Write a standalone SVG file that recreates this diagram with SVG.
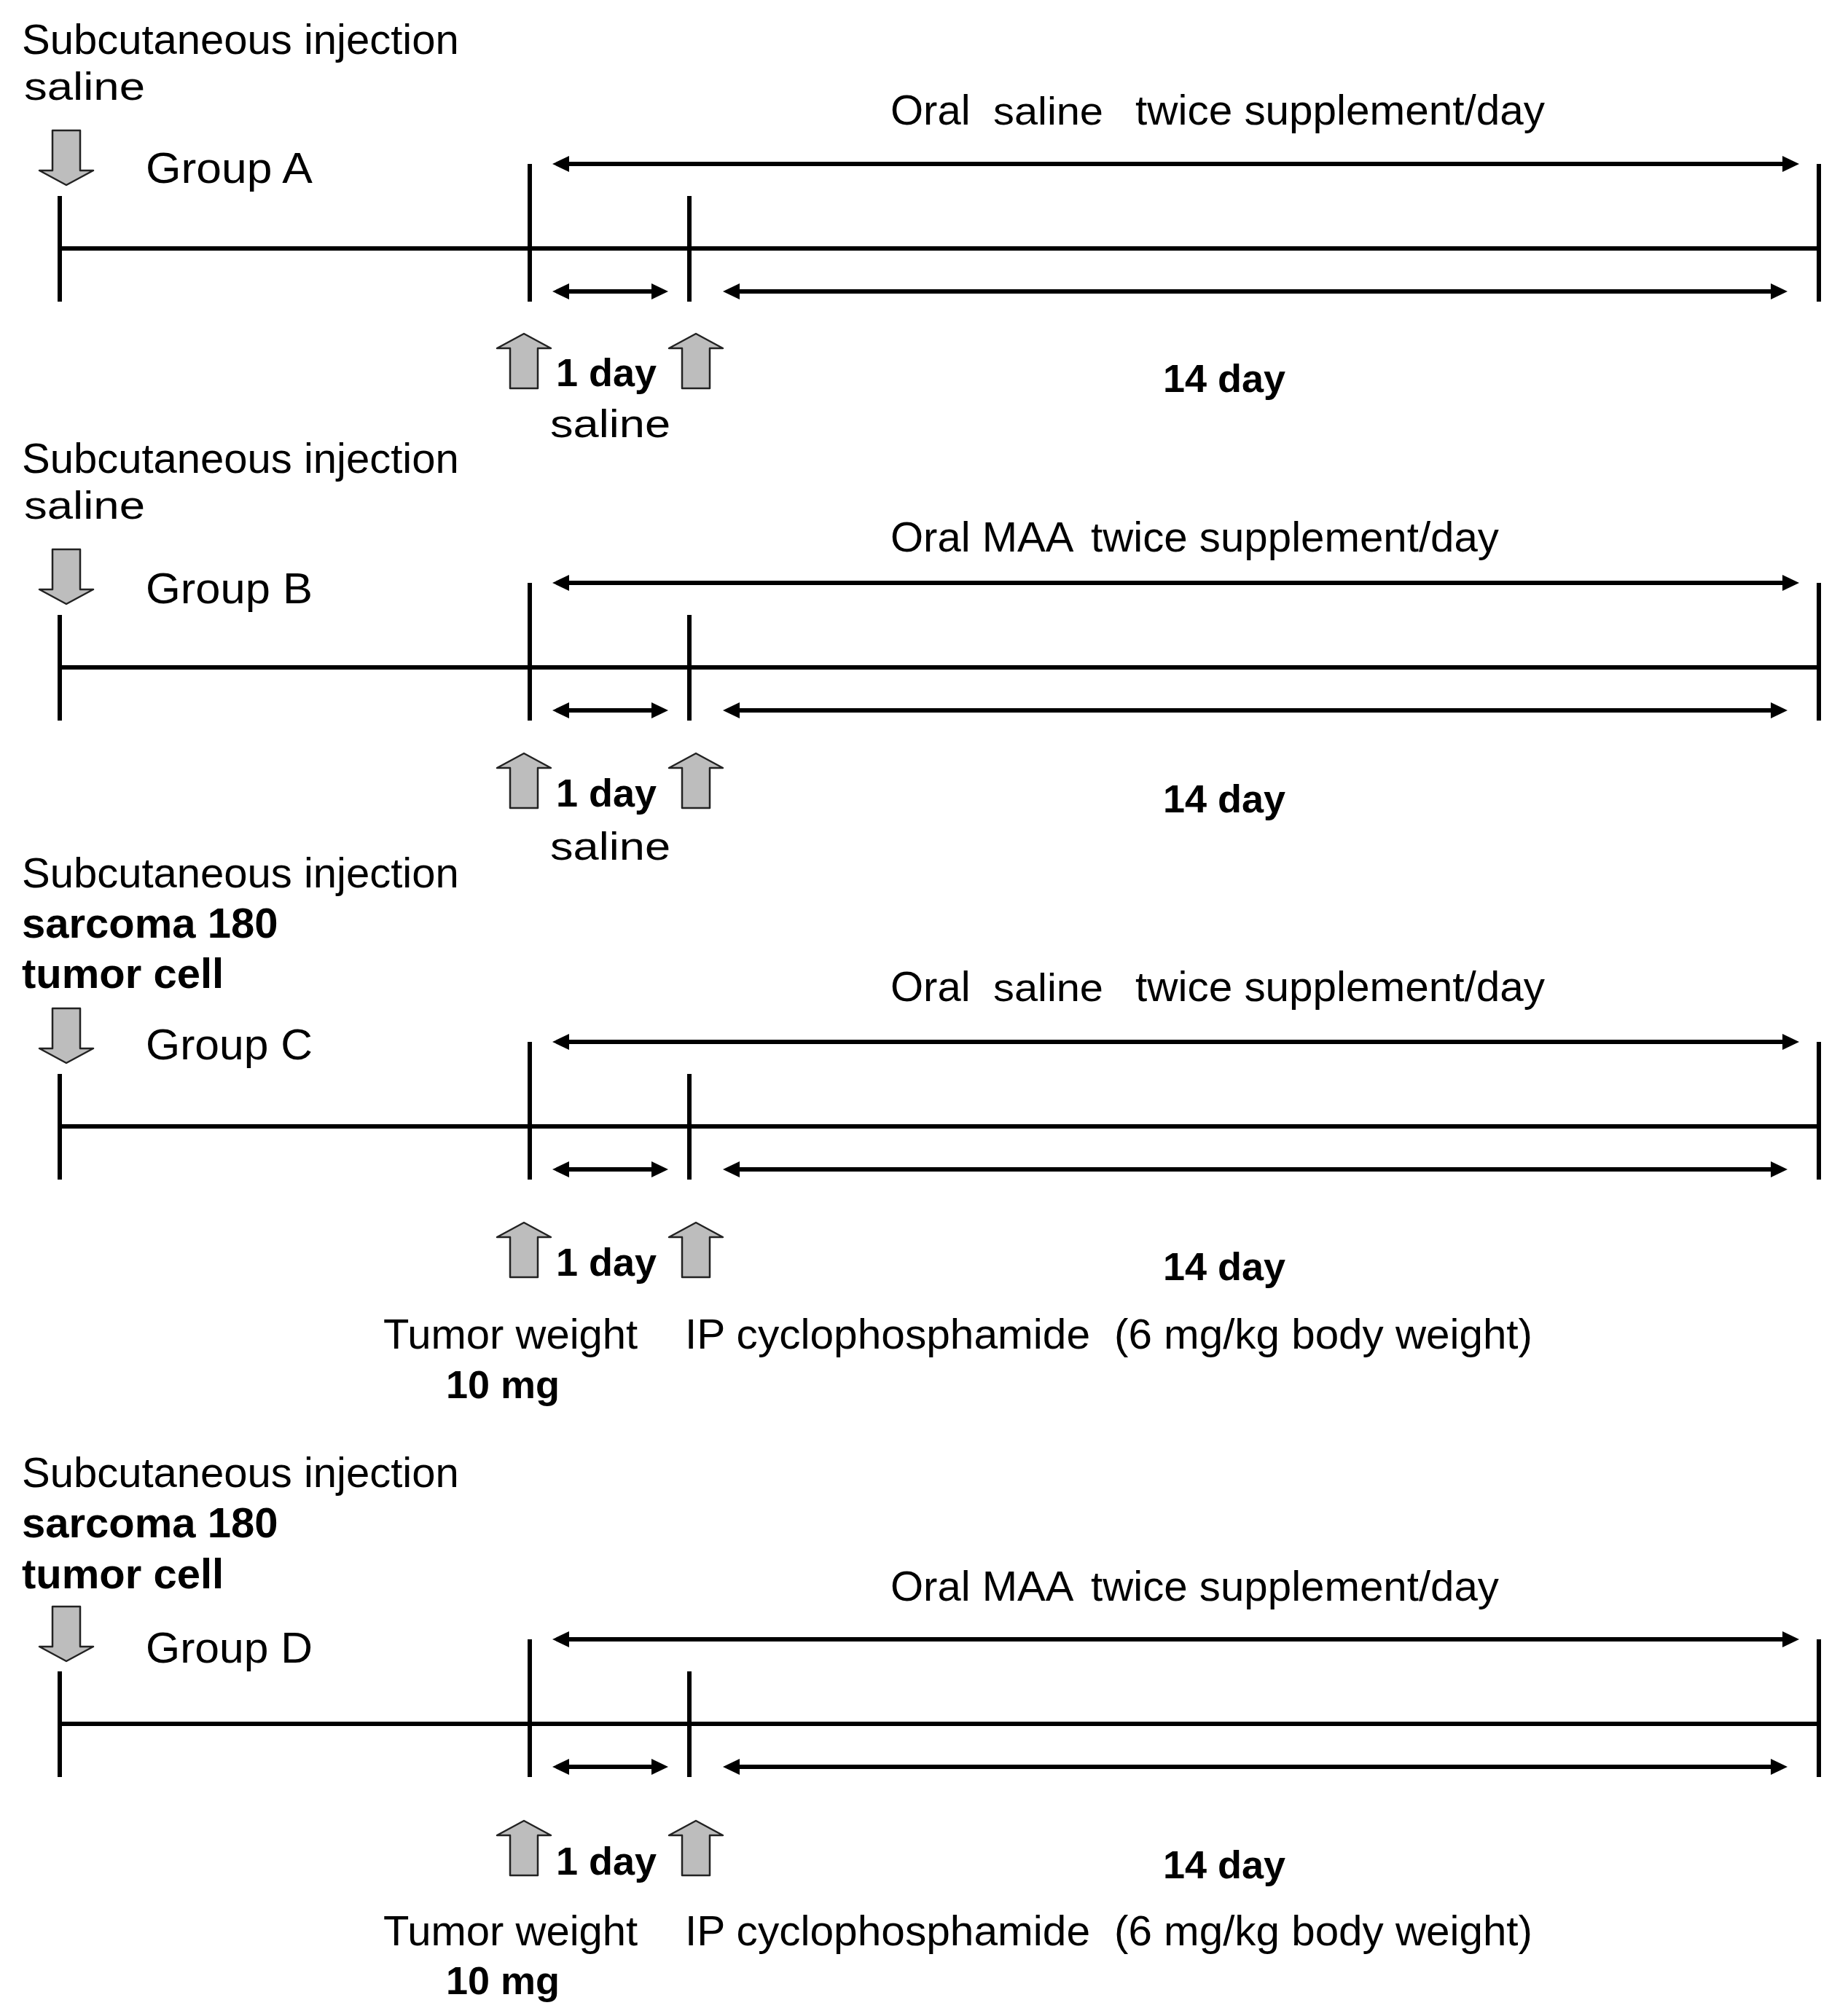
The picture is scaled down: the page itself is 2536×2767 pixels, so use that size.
<svg xmlns="http://www.w3.org/2000/svg" xmlns:xlink="http://www.w3.org/1999/xlink" width="2536" height="2767" viewBox="0 0 2536 2767">
<style>
text{font-family:"Liberation Sans",Arial,sans-serif;fill:#000}
.n{font-size:58px}
.b{font-size:58px;font-weight:bold}
.d{font-size:54px;font-weight:bold}
.g{font-size:60px}
.s{font-size:54px}
.ln{stroke:#000;stroke-width:6;fill:none}
.ar{stroke:#000;stroke-width:6;fill:none;marker-start:url(#ah);marker-end:url(#ah)}
.blk{fill:#bdbdbd;stroke:#222;stroke-width:2.5;stroke-linejoin:round}
</style>
<defs>
<marker id="ah" viewBox="0 0 23 22" refX="13" refY="11" markerWidth="23" markerHeight="22" markerUnits="userSpaceOnUse" orient="auto-start-reverse"><path d="M0,0 L23,11 L0,22 Z" fill="#000"/></marker>
<path id="down" class="blk" d="M-19,0 H19 V55 H37 L0,75 L-37,55 H-19 Z"/>
<path id="up" class="blk" d="M0,0 L37,20 H19 V75 H-19 V20 H-37 Z"/>
</defs>
<rect width="2536" height="2767" fill="#fff"/>

<g id="connectors">
  <g id="conn-A">
  <line class="ln" x1="82" y1="341" x2="2496" y2="341"/>
  <line class="ln" x1="82" y1="269" x2="82" y2="414"/>
  <line class="ln" x1="727" y1="225" x2="727" y2="414"/>
  <line class="ln" x1="946" y1="269" x2="946" y2="414"/>
  <line class="ln" x1="2496" y1="225" x2="2496" y2="414"/>
  <line class="ar" x1="768" y1="225" x2="2459" y2="225"/>
  <line class="ar" x1="768" y1="400" x2="907" y2="400"/>
  <line class="ar" x1="1002" y1="400" x2="2443" y2="400"/>
  </g>
  <g id="conn-B">
  <line class="ln" x1="82" y1="916" x2="2496" y2="916"/>
  <line class="ln" x1="82" y1="844" x2="82" y2="989"/>
  <line class="ln" x1="727" y1="800" x2="727" y2="989"/>
  <line class="ln" x1="946" y1="844" x2="946" y2="989"/>
  <line class="ln" x1="2496" y1="800" x2="2496" y2="989"/>
  <line class="ar" x1="768" y1="800" x2="2459" y2="800"/>
  <line class="ar" x1="768" y1="975" x2="907" y2="975"/>
  <line class="ar" x1="1002" y1="975" x2="2443" y2="975"/>
  </g>
  <g id="conn-C">
  <line class="ln" x1="82" y1="1546" x2="2496" y2="1546"/>
  <line class="ln" x1="82" y1="1474" x2="82" y2="1619"/>
  <line class="ln" x1="727" y1="1430" x2="727" y2="1619"/>
  <line class="ln" x1="946" y1="1474" x2="946" y2="1619"/>
  <line class="ln" x1="2496" y1="1430" x2="2496" y2="1619"/>
  <line class="ar" x1="768" y1="1430" x2="2459" y2="1430"/>
  <line class="ar" x1="768" y1="1605" x2="907" y2="1605"/>
  <line class="ar" x1="1002" y1="1605" x2="2443" y2="1605"/>
  </g>
  <g id="conn-D">
  <line class="ln" x1="82" y1="2366" x2="2496" y2="2366"/>
  <line class="ln" x1="82" y1="2294" x2="82" y2="2439"/>
  <line class="ln" x1="727" y1="2250" x2="727" y2="2439"/>
  <line class="ln" x1="946" y1="2294" x2="946" y2="2439"/>
  <line class="ln" x1="2496" y1="2250" x2="2496" y2="2439"/>
  <line class="ar" x1="768" y1="2250" x2="2459" y2="2250"/>
  <line class="ar" x1="768" y1="2425" x2="907" y2="2425"/>
  <line class="ar" x1="1002" y1="2425" x2="2443" y2="2425"/>
  </g>
</g>

<g id="groupA">
  <text class="n" x="30" y="74">Subcutaneous injection</text>
  <text class="s" x="33" y="137" textLength="166" lengthAdjust="spacingAndGlyphs">saline</text>
  <use xlink:href="#down" x="91" y="179"/>
  <text class="g" x="200" y="251" textLength="229" lengthAdjust="spacingAndGlyphs">Group A</text>
  <text class="n" x="1222" y="171">Oral</text>
  <text class="s" x="1363" y="171" textLength="151" lengthAdjust="spacingAndGlyphs">saline</text>
  <text class="n" x="1558" y="171" textLength="562" lengthAdjust="spacingAndGlyphs">twice supplement/day</text>
  <use xlink:href="#up" x="719" y="458"/>
  <use xlink:href="#up" x="955" y="458"/>
  <text class="d" x="763" y="530">1 day</text>
  <text class="s" x="755" y="600" textLength="165" lengthAdjust="spacingAndGlyphs">saline</text>
  <text class="d" x="1596" y="538">14 day</text>
</g>

<g id="groupB">
  <text class="n" x="30" y="649">Subcutaneous injection</text>
  <text class="s" x="33" y="712" textLength="166" lengthAdjust="spacingAndGlyphs">saline</text>
  <use xlink:href="#down" x="91" y="754"/>
  <text class="g" x="200" y="828" textLength="229" lengthAdjust="spacingAndGlyphs">Group B</text>
  <text class="n" x="1222" y="757">Oral MAA</text>
  <text class="n" x="1497" y="757" textLength="560" lengthAdjust="spacingAndGlyphs">twice supplement/day</text>
  <use xlink:href="#up" x="719" y="1034"/>
  <use xlink:href="#up" x="955" y="1034"/>
  <text class="d" x="763" y="1107">1 day</text>
  <text class="s" x="755" y="1180" textLength="165" lengthAdjust="spacingAndGlyphs">saline</text>
  <text class="d" x="1596" y="1115">14 day</text>
</g>

<g id="groupC">
  <text class="n" x="30" y="1218">Subcutaneous injection</text>
  <text class="b" x="30" y="1287">sarcoma 180</text>
  <text class="b" x="30" y="1356">tumor cell</text>
  <use xlink:href="#down" x="91" y="1384"/>
  <text class="g" x="200" y="1454" textLength="229" lengthAdjust="spacingAndGlyphs">Group C</text>
  <text class="n" x="1222" y="1374">Oral</text>
  <text class="s" x="1363" y="1374" textLength="151" lengthAdjust="spacingAndGlyphs">saline</text>
  <text class="n" x="1558" y="1374" textLength="562" lengthAdjust="spacingAndGlyphs">twice supplement/day</text>
  <use xlink:href="#up" x="719" y="1678"/>
  <use xlink:href="#up" x="955" y="1678"/>
  <text class="d" x="763" y="1751">1 day</text>
  <text class="d" x="1596" y="1757">14 day</text>
  <text class="n" x="526" y="1851">Tumor weight</text>
  <text class="d" x="612" y="1919">10 mg</text>
  <text class="n" x="940" y="1851" textLength="556" lengthAdjust="spacingAndGlyphs">IP cyclophosphamide</text>
  <text class="n" x="1529" y="1851" textLength="574" lengthAdjust="spacingAndGlyphs">(6 mg/kg body weight)</text>
</g>

<g id="groupD">
  <text class="n" x="30" y="2041">Subcutaneous injection</text>
  <text class="b" x="30" y="2110">sarcoma 180</text>
  <text class="b" x="30" y="2180">tumor cell</text>
  <use xlink:href="#down" x="91" y="2205"/>
  <text class="g" x="200" y="2282" textLength="229" lengthAdjust="spacingAndGlyphs">Group D</text>
  <text class="n" x="1222" y="2197">Oral MAA</text>
  <text class="n" x="1497" y="2197" textLength="560" lengthAdjust="spacingAndGlyphs">twice supplement/day</text>
  <use xlink:href="#up" x="719" y="2499"/>
  <use xlink:href="#up" x="955" y="2499"/>
  <text class="d" x="763" y="2573">1 day</text>
  <text class="d" x="1596" y="2578">14 day</text>
  <text class="n" x="526" y="2670">Tumor weight</text>
  <text class="d" x="612" y="2737">10 mg</text>
  <text class="n" x="940" y="2670" textLength="556" lengthAdjust="spacingAndGlyphs">IP cyclophosphamide</text>
  <text class="n" x="1529" y="2670" textLength="574" lengthAdjust="spacingAndGlyphs">(6 mg/kg body weight)</text>
</g>
</svg>
